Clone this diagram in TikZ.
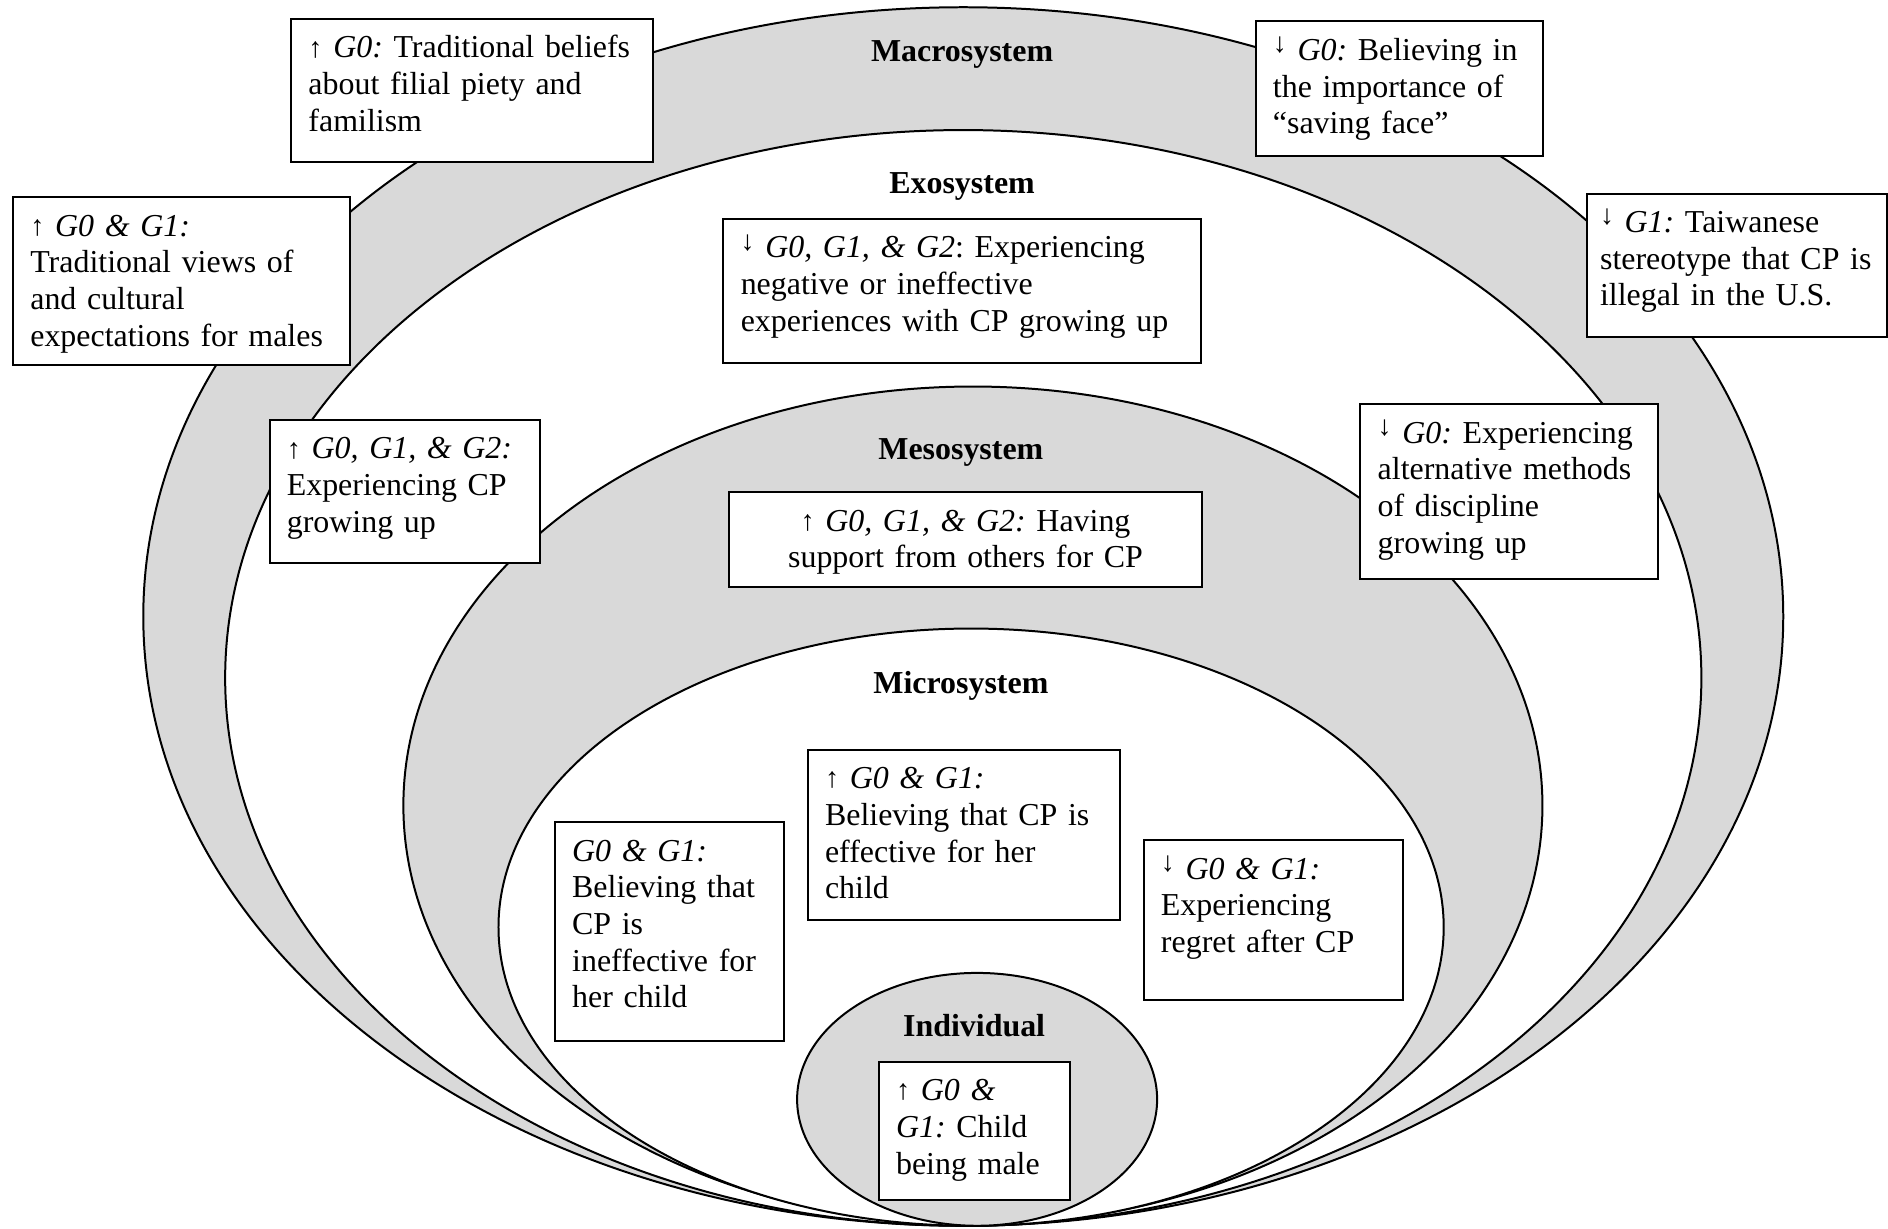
\documentclass[tikz,border=0pt]{standalone}
\usepackage{fontspec}
\usepackage{graphicx}
\setmainfont{Liberation Serif}
\definecolor{ringgray}{RGB}{217,217,217}
\newcommand{\upmark}{\raisebox{\depth}{\resizebox*{!}{6.3pt}{↑}}}
\newcommand{\downmark}{\raisebox{\dimexpr\depth+2.6pt\relax}{\resizebox*{!}{6.2pt}{↓}}}

\begin{document}
\frenchspacing
\begin{tikzpicture}[x=0.4525pt, y=-0.4525pt,
            ring/.style={draw, line width=0.75pt, fill=white},
            ringGray/.style={draw, line width=0.75pt, fill=ringgray},
            sys/.style={font=\fontsize{12}{13.8}\selectfont\bfseries},
            sysbox/.style={draw, fill=white, line width=0.75pt, anchor=north west, align=left,
                inner xsep=6.5pt, inner ysep=3.6pt, text height=11pt,
                font=\fontsize{12}{13.8}\selectfont\frenchspacing}]

            \useasboundingbox (0,0) rectangle (1568,1020);

            % nested systems
            \draw[ringGray] (800,512) ellipse [x radius=681, y radius=506];
            \draw[ring] (800,563) ellipse [x radius=613, y radius=455];
            \draw[ringGray] (808,669) ellipse [x radius=473, y radius=348];
            \draw[ring] (806.5,770) ellipse [x radius=392.5, y radius=248];
            \draw[ringGray] (811.5,913) ellipse [x radius=149.5, y radius=105];

            \node[sys] (macro) at (799,45) {Macrosystem};
            \node[sys] (exo) at (799,155) {Exosystem};
            \node[sys] (meso) at (798,376) {Mesosystem};
            \node[sys] (micro) at (798,570) {Microsystem};
            \node[sys] (indiv) at (809,852) {Individual};

            % macrosystem
            \node[sysbox, text width=123pt, text depth=35.6pt] (filial) at (241,15)
                {\upmark{} \textit{G0:} Traditional beliefs\\about filial piety and\\familism};
            \node[sysbox, text width=113.7pt, text depth=44.7pt] (males) at (10,163)
                {\upmark{} \textit{G0 \& G1:}\\Traditional views of\\and cultural\\expectations for males};
            \node[sysbox, text width=95.1pt, text depth=32.5pt] (face) at (1042,17)
                {\downmark{} \textit{G0:} Believing in\\the importance of\\“saving face”};
            \node[sysbox, inner xsep=5pt, text width=102.7pt, text depth=35.6pt] (illegal) at (1317,160)
                {\downmark{} \textit{G1:} Taiwanese\\stereotype that CP is\\illegal in the U.S.};

            % exosystem
            \node[sysbox, text width=166.6pt, text depth=36.1pt] (negative) at (600,181)
                {\downmark{} \textit{G0, G1, \& G2}: Experiencing\\negative or ineffective\\experiences with CP growing up};
            \node[sysbox, text width=88.8pt, text depth=35.6pt] (grewup) at (223,348)
                {\upmark{} \textit{G0, G1, \& G2:}\\Experiencing CP\\growing up};
            \node[sysbox, text width=98.8pt, text depth=47.4pt] (altern) at (1129,335)
                {\downmark{} \textit{G0:} Experiencing\\alternative methods\\of discipline\\growing up};

            % mesosystem
            \node[sysbox, align=center, text width=164.4pt, text depth=17.5pt] (support) at (605,408)
                {\upmark{} \textit{G0, G1, \& G2:} Having\\support from others for CP};

            % microsystem
            \node[sysbox, text width=73pt, text depth=64.2pt] (ineff) at (460,682)
                {\textit{G0 \& G1:}\\Believing that\\CP is\\ineffective for\\her child};
            \node[sysbox, text width=104.2pt, text depth=45.6pt] (eff) at (670,622)
                {\upmark{} \textit{G0 \& G1:}\\Believing that CP is\\effective for her\\child};
            \node[sysbox, text width=84.3pt, text depth=42pt] (regret) at (949,697)
                {\downmark{} \textit{G0 \& G1:}\\Experiencing\\regret after CP};

            % individual
            \node[sysbox, text width=58.9pt, text depth=33.8pt] (male) at (729,881)
                {\upmark{} \textit{G0 \&}\\\textit{G1:} Child\\being male};

\end{tikzpicture}
\end{document}
